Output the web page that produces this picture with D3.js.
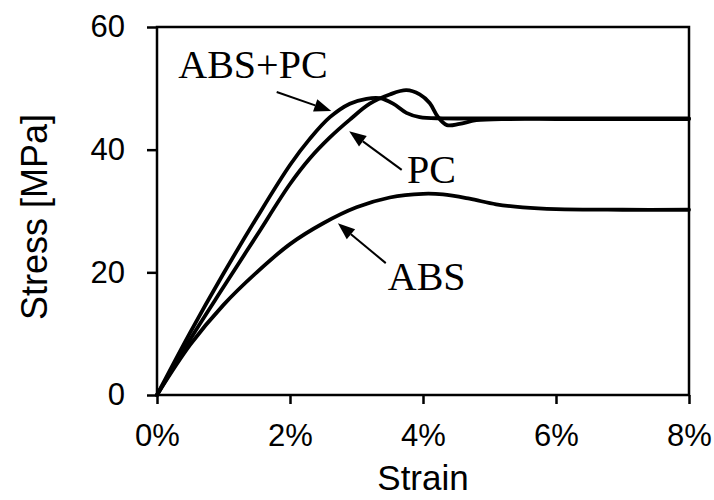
<!DOCTYPE html>
<html>
<head>
<meta charset="utf-8">
<script src="https://cdn.jsdelivr.net/npm/d3@7"></script>
<style>
  html, body { margin: 0; padding: 0; background: #fff; }
  svg { display: block; }
</style>
</head>
<body>
<svg id="chart" width="714" height="500"></svg>
<script>
// Strain (%) and stress (MPa) readings for each material
const absPcStrain = [0, 0.5, 1.0, 1.5, 2.0, 2.3, 2.6, 2.9, 3.15, 3.35, 3.55, 3.75, 3.95, 4.3, 5, 6, 7, 8];
const absPcStress = [0, 10.2, 19.8, 28.9, 37.5, 41.8, 45.3, 47.5, 48.3, 48.4, 47.5, 46.0, 45.3, 45.1, 45.1, 45.1, 45.1, 45.1];

const pcStrain = [0, 0.5, 1.0, 1.5, 2.0, 2.3, 2.6, 2.9, 3.2, 3.5, 3.75, 3.95, 4.1, 4.22, 4.36, 4.55, 4.8, 5.3, 6, 7, 8];
const pcStress = [0, 9.1, 17.6, 26.0, 34.4, 38.6, 42.0, 44.9, 47.5, 49.0, 49.7, 49.0, 47.6, 45.4, 44.0, 44.2, 44.8, 45.0, 45.0, 45.0, 45.0];

const absStrain = [0, 0.5, 1.0, 1.5, 2.0, 2.5, 3.0, 3.5, 4.0, 4.3, 4.7, 5.1, 5.5, 6.0, 7, 8];
const absStress = [0, 8.2, 14.7, 20.0, 24.6, 28.0, 30.6, 32.2, 32.8, 32.7, 32.0, 31.1, 30.6, 30.3, 30.2, 30.2];

// Axis ticks
const strainTicks = [0, 2, 4, 6, 8];
const stressTicks = [0, 20, 40, 60];

// Callout labels: text, label anchor (strain %, MPa), arrow start and arrow tip
const labelNames = ["ABS+PC", "PC", "ABS"];
const labelAt = [[0.32, 51.7], [3.76, 34.6], [3.47, 17.1]];
const arrowFrom = [[1.80, 49.4], [3.68, 36.7], [3.44, 21.5]];
const arrowTo = [[2.62, 46.3], [2.89, 43.0], [2.72, 28.0]];

const svg = d3.select("#chart");
const margin = { left: 157, right: 25, top: 27, bottom: 105 };
const W = 714, H = 500;

const x = d3.scaleLinear().domain([0, 8]).range([margin.left, W - margin.right]);
const y = d3.scaleLinear().domain([0, 60]).range([H - margin.bottom, margin.top]);

const sans = "'Liberation Sans', Arial, sans-serif";
const serif = "'Liberation Serif', 'Times New Roman', serif";

// Axes
const xAxis = d3.axisBottom(x)
  .tickValues(strainTicks)
  .tickFormat(d => d + "%")
  .tickSize(9).tickSizeOuter(0).tickPadding(20);
const yAxis = d3.axisLeft(y)
  .tickValues(stressTicks)
  .tickSize(10).tickSizeOuter(0).tickPadding(22);

const gx = svg.append("g").attr("transform", `translate(0,${y(0)})`).call(xAxis);
const gy = svg.append("g").attr("transform", `translate(${x(0)},0)`).call(yAxis);
[gx, gy].forEach(g => {
  g.select(".domain").remove();
  g.selectAll(".tick line").attr("stroke", "#000").attr("stroke-width", 2.5);
  g.selectAll(".tick text")
    .attr("fill", "#000")
    .style("font-family", sans)
    .style("font-size", "31px");
});

// Plot frame
svg.append("rect")
  .attr("x", x(0)).attr("y", y(60))
  .attr("width", x(8) - x(0)).attr("height", y(0) - y(60))
  .attr("fill", "none").attr("stroke", "#000").attr("stroke-width", 2.5);

// Axis titles
svg.append("text")
  .attr("x", (x(0) + x(8)) / 2).attr("y", 490)
  .attr("text-anchor", "middle")
  .style("font-family", sans).style("font-size", "35px")
  .text("Strain");
svg.append("text")
  .attr("transform", `translate(47,${(y(0) + y(60)) / 2 + 6}) rotate(-90)`)
  .attr("text-anchor", "middle")
  .style("font-family", sans).style("font-size", "36px")
  .text("Stress [MPa]");

// Curves
const line = d3.line()
  .x(d => x(d[0])).y(d => y(d[1]))
  .curve(d3.curveCatmullRom.alpha(0.5));
const series = [
  d3.zip(absStrain, absStress),
  d3.zip(pcStrain, pcStress),
  d3.zip(absPcStrain, absPcStress)
];
svg.append("g").selectAll("path")
  .data(series).join("path")
  .attr("d", line)
  .attr("fill", "none")
  .attr("stroke", "#000")
  .attr("stroke-width", 3.8)
  .attr("stroke-linejoin", "round")
  .attr("stroke-linecap", "round");

// Callouts with arrows
const callouts = svg.append("g");
labelNames.forEach((name, i) => {
  const x1 = x(arrowFrom[i][0]), y1 = y(arrowFrom[i][1]);
  const x2 = x(arrowTo[i][0]), y2 = y(arrowTo[i][1]);
  const ang = Math.atan2(y2 - y1, x2 - x1);
  const len = 17, half = 6.5;
  const bx = x2 - len * Math.cos(ang), by = y2 - len * Math.sin(ang);
  callouts.append("line")
    .attr("x1", x1).attr("y1", y1).attr("x2", bx).attr("y2", by)
    .attr("stroke", "#000").attr("stroke-width", 2);
  callouts.append("path")
    .attr("d", `M${x2},${y2}L${bx + half * Math.sin(ang)},${by - half * Math.cos(ang)}L${bx - half * Math.sin(ang)},${by + half * Math.cos(ang)}Z`)
    .attr("fill", "#000");
  callouts.append("text")
    .attr("x", x(labelAt[i][0])).attr("y", y(labelAt[i][1]))
    .style("font-family", serif).style("font-size", "40px")
    .attr("fill", "#000")
    .text(name);
});
</script>
</body>
</html>
